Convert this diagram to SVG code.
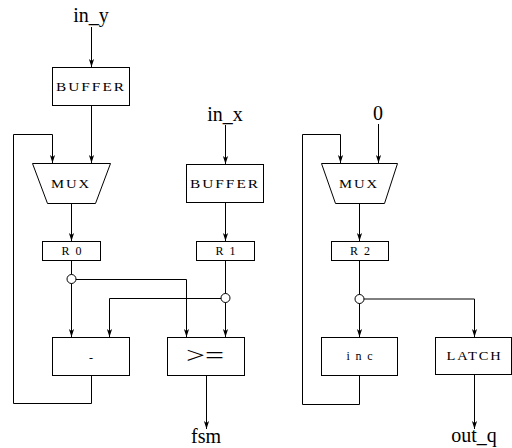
<svg xmlns="http://www.w3.org/2000/svg" width="512" height="448" viewBox="0 0 512 448">
  <style>
    .box { fill: #fff; stroke: #000; stroke-width: 1; }
    .wire { fill: none; stroke: #000; stroke-width: 1; }
    .arr { marker-end: url(#arrow); }
    .dot { fill: none; stroke: #000; stroke-width: 1; }
    .sc { font-family: "Liberation Serif", "DejaVu Serif", serif; font-size: 11.5px; letter-spacing: 1.5px; text-anchor: middle; fill: #000; }
    .reg { font-family: "Liberation Serif", "DejaVu Serif", serif; font-size: 12px; text-anchor: middle; fill: #000; }
    .io { font-family: "Liberation Serif", "DejaVu Serif", serif; font-size: 20px; text-anchor: middle; fill: #000; }
    .op { font-family: "Liberation Serif", "DejaVu Serif", serif; font-size: 24px; text-anchor: middle; fill: #000; }
  </style>
  <defs>
    <marker id="arrow" markerUnits="userSpaceOnUse" markerWidth="10" markerHeight="8" refX="0" refY="0" viewBox="-9 -4 10 8" orient="auto" overflow="visible">
      <path d="M0,0 L-8,-2.6 L-6,0 L-8,2.6 Z" fill="#000"/>
    </marker>
  </defs>
  <rect width="512" height="448" fill="#fff"/>

  <!-- connectors -->
  <g id="connectors">
    <!-- left datapath -->
    <path class="wire arr" d="M91.5,27 V67"/>
    <path class="wire arr" d="M91.5,106 V163"/>
    <path class="wire arr" d="M91.5,375 V403.5 H13.5 V134.5 H52.5 V163"/>
    <path class="wire arr" d="M71.5,203 V241"/>
    <path class="wire" d="M71.5,260 V274.5"/>
    <path class="wire arr" d="M71.5,283.5 V337"/>
    <path class="wire arr" d="M76,279.5 H186.5 V337"/>
    <path class="wire arr" d="M225.5,125 V164"/>
    <path class="wire arr" d="M225.5,202 V241"/>
    <path class="wire" d="M225.5,260 V293.5"/>
    <path class="wire arr" d="M225.5,302.5 V337"/>
    <path class="wire arr" d="M221,298.5 H109.5 V337"/>
    <path class="wire arr" d="M206.5,375 V429"/>
    <circle class="dot" cx="71.5" cy="279" r="4.5"/>
    <circle class="dot" cx="225.5" cy="298" r="4.5"/>
    <!-- right datapath -->
    <path class="wire arr" d="M378.5,124 V163"/>
    <path class="wire arr" d="M359.5,376 V404.5 H302.5 V134.5 H340.5 V163"/>
    <path class="wire arr" d="M359.5,203 V241"/>
    <path class="wire" d="M359.5,260 V294.5"/>
    <path class="wire arr" d="M359.5,303.5 V337"/>
    <path class="wire arr" d="M364,299 H474.5 V337"/>
    <path class="wire arr" d="M474.5,375 V429"/>
    <circle class="dot" cx="359.5" cy="299" r="4.5"/>
  </g>

  <!-- inputs and outputs -->
  <g id="in_y"><text class="io" x="91" y="22">in_y</text></g>
  <g id="in_x"><text class="io" x="225" y="121">in_x</text></g>
  <g id="const0"><text class="io" x="378" y="120">0</text></g>
  <g id="fsm"><text class="io" x="206" y="443">fsm</text></g>
  <g id="out_q"><text class="io" x="474" y="442">out_q</text></g>

  <!-- left column -->
  <g id="buffer_y">
    <rect class="box" x="52.5" y="67.5" width="77" height="38"/>
    <text class="sc" x="91" y="91" textLength="70" lengthAdjust="spacingAndGlyphs">BUFFER</text>
  </g>
  <g id="mux0">
    <polygon class="box" points="32.5,163.5 110.5,163.5 95.5,203.5 47.5,203.5"/>
    <text class="sc" x="71" y="188" textLength="40" lengthAdjust="spacingAndGlyphs">MUX</text>
  </g>
  <g id="r0">
    <rect class="box" x="42.5" y="241.5" width="58" height="19"/>
    <text class="reg" x="71.5" y="255" textLength="20" lengthAdjust="spacing">R0</text>
  </g>
  <g id="sub">
    <rect class="box" x="52.5" y="337.5" width="77" height="38"/>
    <text class="reg" x="91" y="362">-</text>
  </g>

  <!-- middle column -->
  <g id="buffer_x">
    <rect class="box" x="186.5" y="164.5" width="77" height="38"/>
    <text class="sc" x="225" y="188" textLength="70" lengthAdjust="spacingAndGlyphs">BUFFER</text>
  </g>
  <g id="r1">
    <rect class="box" x="196.5" y="241.5" width="58" height="19"/>
    <text class="reg" x="225.5" y="255" textLength="20" lengthAdjust="spacing">R1</text>
  </g>
  <g id="geq">
    <rect class="box" x="167.5" y="337.5" width="77" height="38"/>
    <text class="op" x="205" y="363" textLength="38" lengthAdjust="spacingAndGlyphs">&gt;=</text>
  </g>

  <!-- right column -->
  <g id="mux2">
    <polygon class="box" points="321.5,163.5 397.5,163.5 384.5,203.5 335.5,203.5"/>
    <text class="sc" x="359" y="188" textLength="40" lengthAdjust="spacingAndGlyphs">MUX</text>
  </g>
  <g id="r2">
    <rect class="box" x="331.5" y="241.5" width="57" height="19"/>
    <text class="reg" x="360" y="255" textLength="20" lengthAdjust="spacing">R2</text>
  </g>
  <g id="inc">
    <rect class="box" x="321.5" y="337.5" width="76" height="38"/>
    <text class="reg" x="359.5" y="360" textLength="26" lengthAdjust="spacing">inc</text>
  </g>
  <g id="latch">
    <rect class="box" x="435.5" y="337.5" width="76" height="37"/>
    <text class="sc" x="474.5" y="360" textLength="56" lengthAdjust="spacingAndGlyphs">LATCH</text>
  </g>
</svg>
